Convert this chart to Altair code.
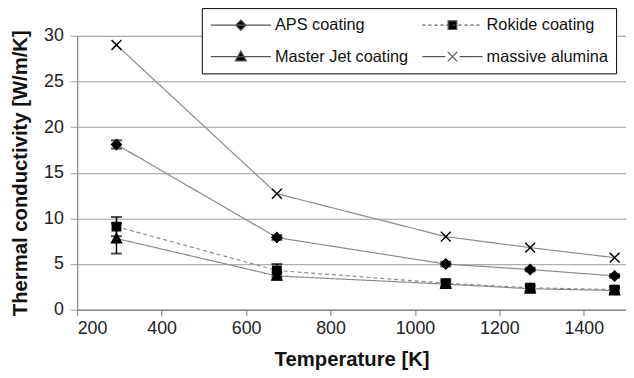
import altair as alt
import pandas as pd

# ---- data ----
temps = [293, 673, 1073, 1273, 1473]
series_names = ["APS coating", "Rokide coating", "Master Jet coating", "massive alumina"]
aps = [18.1, 7.9, 5.0, 4.4, 3.7]
aps_err = [0.45, 0.25, 0.25, 0.2, 0.2]
rokide = [9.1, 4.3, 2.9, 2.4, 2.2]
rokide_err = [1.05, 0.7, 0.4, 0.35, 0.35]
master = [7.8, 3.7, 2.8, 2.3, 2.1]
master_err = [1.65, 0.4, 0.3, 0.3, 0.3]
alumina = [29.0, 12.7, 8.0, 6.8, 5.7]
alumina_err = [0, 0, 0, 0, 0]

values = [aps, rokide, master, alumina]
errs = [aps_err, rokide_err, master_err, alumina_err]

rows = []
for name, vals, ers in zip(series_names, values, errs):
    for t, v, e in zip(temps, vals, ers):
        rows.append({"series": name, "T": t, "k": v, "err": e})
df = pd.DataFrame(rows)

FONT = "Liberation Sans"

x_enc = alt.X("T:Q", scale=alt.Scale(domain=[200, 1500], nice=False, zero=False),
              axis=alt.Axis(values=[200, 400, 600, 800, 1000, 1200, 1400], format="d",
                            title="Temperature [K]", grid=False,
                            labelFontSize=18, titleFontSize=20.5, titleFontWeight="bold",
                            tickSize=6, labelPadding=4, titlePadding=12,
                            domainColor="#777", tickColor="#777",
                            labelColor="#222", titleColor="#111",
                            labelFont=FONT, titleFont=FONT))
y_enc = alt.Y("k:Q", scale=alt.Scale(domain=[0, 30], nice=False),
              axis=alt.Axis(values=[0, 5, 10, 15, 20, 25, 30],
                            title="Thermal conductivity [W/m/K]", grid=True,
                            gridColor="#999", gridWidth=1,
                            labelFontSize=18, titleFontSize=20.5, titleFontWeight="bold",
                            tickSize=7, labelPadding=7, titlePadding=13,
                            domainColor="#777", tickColor="#999",
                            labelColor="#222", titleColor="#111",
                            labelFont=FONT, titleFont=FONT))

base = alt.Chart(df)

lines = base.mark_line(color="#8a8a8a", strokeWidth=1.2).encode(
    x=x_enc, y=y_enc,
    detail="series:N",
    strokeDash=alt.StrokeDash("series:N",
                              scale=alt.Scale(domain=series_names,
                                              range=[[1, 0], [4, 3], [1, 0], [1, 0]]),
                              legend=None),
)

err_data = base.transform_filter("datum.err > 0").transform_calculate(
    lo="datum.k - datum.err", hi="datum.k + datum.err")

err_rules = err_data.mark_rule(color="black", strokeWidth=1.5).encode(
    x="T:Q", y="lo:Q", y2="hi:Q")
err_lo = err_data.mark_tick(color="black", orient="horizontal", size=11, thickness=2).encode(
    x="T:Q", y="lo:Q")
err_hi = err_data.mark_tick(color="black", orient="horizontal", size=11, thickness=2).encode(
    x="T:Q", y="hi:Q")

shape_paths = [
    "M0,-1L1,0L0,1L-1,0Z",
    "M-0.85,-0.85H0.85V0.85H-0.85Z",
    "M0,-1L1,0.85H-1Z",
    "M-1,-1L1,1M-1,1L1,-1",
]

# legend glyphs (unit = 8px): 61px line segment + marker; dashed line from short sub-paths
L = 3.8
dash_line = "".join("M%.2f,0H%.2f" % (-L + i * 0.76, -L + i * 0.76 + 0.38) for i in range(10))
legend_paths = [
    "M-%.1f,0H%.1fM0,-0.65L0.65,0L0,0.65L-0.65,0Z" % (L, L),
    dash_line + "M-0.55,-0.55H0.55V0.55H-0.55Z",
    "M-%.1f,0H%.1fM0,-0.7L0.7,0.55H-0.7Z" % (L, L),
    "M-%.1f,0H-0.9M0.9,0H%.1fM-0.6,-0.6L0.6,0.6M-0.6,0.6L0.6,-0.6" % (L, L),
]

points = base.mark_point(filled=True, color="black", stroke="black",
                         strokeWidth=1.5, opacity=1, size=100).encode(
    x="T:Q", y="k:Q",
    shape=alt.Shape("series:N",
                    scale=alt.Scale(domain=series_names, range=shape_paths),
                    legend=None),
)

leg = alt.Legend(
    title=None, orient="none", legendX=126, legendY=-28, direction="horizontal",
    columns=2, columnPadding=11, rowPadding=14, padding=8,
    fillColor="white", strokeColor="black", values=series_names,
    symbolSize=256, symbolStrokeWidth=1.2, symbolOpacity=1, symbolOffset=22.5,
    labelFontSize=16.5, labelFont=FONT,
    labelColor="#111", labelOffset=25.5, labelLimit=300,
)

legend_layer = base.transform_filter("false").mark_point(
    filled=False, fill="black", stroke="#555", strokeWidth=1.2, opacity=1).encode(
    x="T:Q", y="k:Q",
    shape=alt.Shape("series:N", sort=series_names,
                    scale=alt.Scale(domain=series_names, range=legend_paths),
                    legend=leg),
)

chart = alt.layer(lines, err_rules, err_lo, err_hi, points, legend_layer).resolve_scale(
    shape="independent"
).properties(
    width=555, height=277,
    autosize=alt.AutoSizeParams(type="none"),
    padding={"left": 70, "top": 26, "right": 0, "bottom": 70},
).configure_view(stroke="#999", strokeWidth=1).configure(background="white")

chart.save("out.html", embed_options={"renderer": "svg", "actions": False})
